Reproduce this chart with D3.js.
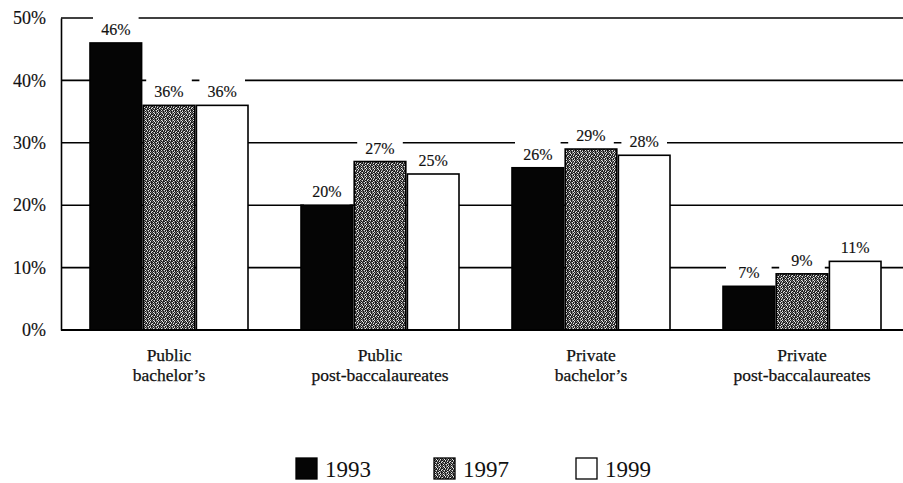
<!DOCTYPE html>
<html>
<head>
<meta charset="utf-8">
<script src="https://cdn.jsdelivr.net/npm/d3@7"></script>
<style>
  body { margin: 0; background: #fff; }
  svg text { font-family: "Liberation Serif", "DejaVu Serif", serif; fill: #111; }
</style>
</head>
<body>
<svg id="chart"></svg>
<script>
const GROUPS = ["Public bachelor's", "Public post-baccalaureates", "Private bachelor's", "Private post-baccalaureates"];
const GROUP_LINES = [["Public", "bachelor’s"], ["Public", "post-baccalaureates"], ["Private", "bachelor’s"], ["Private", "post-baccalaureates"]];
const YEARS = ["1993", "1997", "1999"];
const V1993 = [46, 20, 26, 7];
const V1997 = [36, 27, 29, 9];
const V1999 = [36, 25, 28, 11];
const Y_TICKS = [0, 10, 20, 30, 40, 50];

const WIDTH = 903;
const HEIGHT = 483;
const LEFT = 61;
const SERIF = '"Liberation Serif", "DejaVu Serif", serif';

const series = [V1993, V1997, V1999];
const data = [];
GROUPS.forEach((g, i) => {
  YEARS.forEach((yr, j) => data.push({ group: g, year: yr, value: series[j][i] }));
});

const svg = d3.select('#chart').attr('width', WIDTH).attr('height', HEIGHT)
  .attr('font-family', SERIF);

// stipple texture for 1997 (fixed tile)
const TILE = [
  "#.:#:.#:",
  ":#.#:#.#",
  "#:#.#::#",
  ".##:#.#:",
  "#:.#:##.",
  ":#:##.:#",
  "#.#:.#:#",
  ":#:#:#.#"
];
const SHADE = { "#": "#1c1c1c", ":": "#7a7a7a", ".": "#e8e8e8" };
const pat = svg.append('defs').append('pattern').attr('id', 'stip')
  .attr('width', 8).attr('height', 8).attr('patternUnits', 'userSpaceOnUse');
TILE.forEach((row, r) => row.split('').forEach((ch, c) => {
  pat.append('rect').attr('x', c).attr('y', r).attr('width', 1).attr('height', 1).attr('fill', SHADE[ch]);
}));

const FILLS = { "1993": "#050505", "1997": "url(#stip)", "1999": "#fff" };

const y = d3.scaleLinear().domain([0, 50]).range([330, 18]);
const x = d3.scalePoint().domain(GROUPS).range([169, 802]);
const xi = d3.scaleBand().domain(YEARS).range([-79, 79]).paddingInner(0.03);

// gridlines
svg.append('g').selectAll('line').data(Y_TICKS.filter(t => t > 0)).enter().append('line')
  .attr('x1', LEFT).attr('x2', WIDTH)
  .attr('y1', d => y(d)).attr('y2', d => y(d))
  .attr('stroke', '#000').attr('stroke-width', 1.6);

// white boxes behind value labels
svg.append('g').selectAll('rect').data(data).enter().append('rect')
  .attr('x', d => x(d.group) + xi(d.year) + 3)
  .attr('width', xi.bandwidth() - 6)
  .attr('y', d => y(d.value) - 27)
  .attr('height', 27)
  .attr('fill', '#fff');

// bars
svg.append('g').selectAll('rect').data(data).enter().append('rect')
  .attr('x', d => x(d.group) + xi(d.year))
  .attr('width', xi.bandwidth())
  .attr('y', d => y(d.value))
  .attr('height', d => y(0) - y(d.value))
  .attr('fill', d => FILLS[d.year])
  .attr('stroke', '#000').attr('stroke-width', 1.6);

// value labels
svg.append('g').selectAll('text').data(data).enter().append('text')
  .attr('x', d => x(d.group) + xi(d.year) + xi.bandwidth() / 2)
  .attr('y', d => y(d.value) - 8)
  .attr('text-anchor', 'middle')
  .attr('font-size', '16px')
  .attr('stroke', '#111').attr('stroke-width', 0.15)
  .text(d => d.value + '%');

// y axis
const yAxis = d3.axisLeft(y).tickValues(Y_TICKS).tickSize(0).tickPadding(15).tickFormat(d => d + '%');
const ya = svg.append('g').attr('transform', `translate(${LEFT},0)`).call(yAxis);
ya.attr('font-family', SERIF);
ya.select('.domain').attr('stroke', '#000').attr('stroke-width', 1.6);
ya.selectAll('text').attr('font-size', '18px').attr('fill', '#111')
  .attr('stroke', '#111').attr('stroke-width', 0.15);

// baseline
svg.append('line').attr('x1', LEFT).attr('x2', WIDTH).attr('y1', y(0)).attr('y2', y(0))
  .attr('stroke', '#000').attr('stroke-width', 2.2);

// category labels
const cat = svg.append('g').selectAll('text').data(GROUPS).enter().append('text')
  .attr('x', d => x(d))
  .attr('text-anchor', 'middle')
  .attr('font-size', '17.5px')
  .attr('stroke', '#111').attr('stroke-width', 0.25);
cat.each(function(d, i) {
  d3.select(this).selectAll('tspan').data(GROUP_LINES[i]).enter().append('tspan')
    .attr('x', x(d))
    .attr('y', (t, k) => 361 + k * 20)
    .text(t => t);
});

// legend
const LEG_X = [296, 434, 576];
const leg = svg.append('g').selectAll('g').data(YEARS).enter().append('g')
  .attr('transform', (d, i) => `translate(${LEG_X[i]},458)`);
leg.append('rect').attr('width', 21).attr('height', 21)
  .attr('fill', d => FILLS[d]).attr('stroke', '#000').attr('stroke-width', 1.3);
leg.append('text').attr('x', 29).attr('y', 19).attr('font-size', '23px').text(d => d);
</script>
</body>
</html>
